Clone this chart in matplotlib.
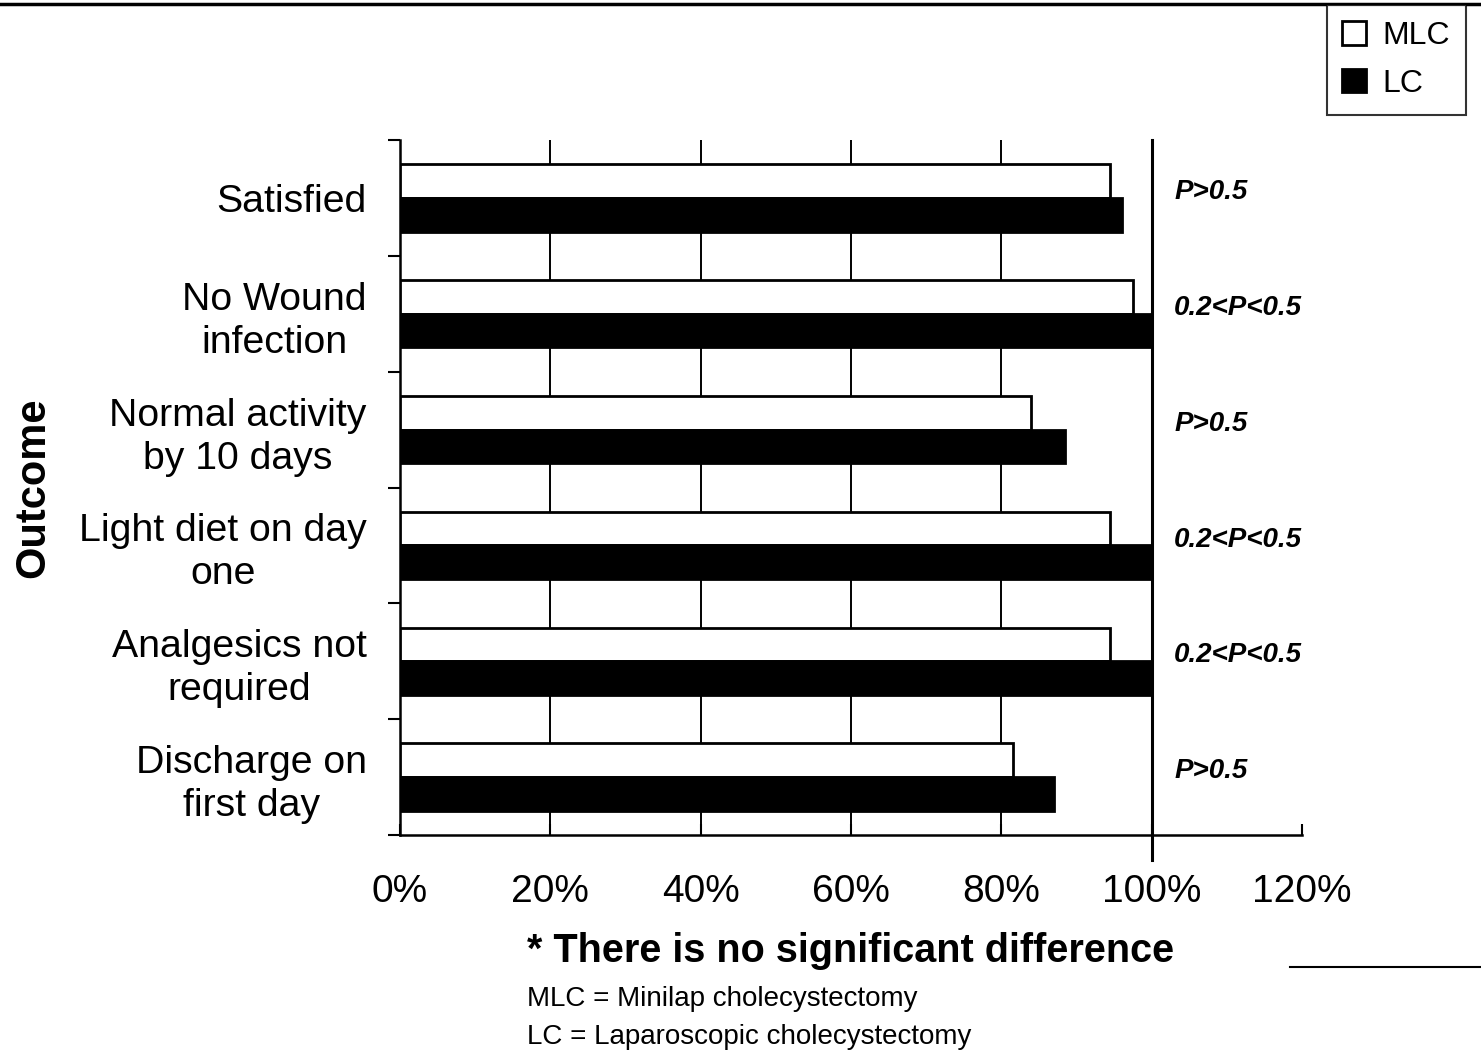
import matplotlib
matplotlib.use("Agg")
import matplotlib.pyplot as plt
from matplotlib.patches import Patch
from matplotlib.lines import Line2D
import numpy as np

plt.rcParams['font.family'] = ['Liberation Sans', 'DejaVu Sans']

categories = ["Satisfied", "No Wound\ninfection", "Normal activity\nby 10 days",
              "Light diet on day\none", "Analgesics not\nrequired", "Discharge on\nfirst day"]
mlc = [94.5, 97.5, 84, 94.5, 94.5, 81.5]
lc = [96, 100, 88.5, 100, 100, 87]
p_labels = ["P>0.5", "0.2<P<0.5", "P>0.5", "0.2<P<0.5", "0.2<P<0.5", "P>0.5"]
x_ticks = [0, 20, 40, 60, 80, 100, 120]
x_tick_labels = ["0%", "20%", "40%", "60%", "80%", "100%", "120%"]

fig = plt.figure(figsize=(14.81, 10.53), dpi=100)
ax = fig.add_axes([400/1481, 1-835/1053, 902/1481, 695/1053])

y = np.arange(len(categories))
h = 0.29
ax.barh(y - h/2, mlc, height=h, color='white', edgecolor='black', linewidth=2, zorder=3)
ax.barh(y + h/2, lc, height=h, color='black', edgecolor='black', linewidth=2, zorder=3)

ax.set_xlim(0, 120)
ax.set_ylim(len(categories) - 0.5, -0.5)
ax.set_xticks(x_ticks)
ax.set_xticklabels(x_tick_labels, fontsize=28)
ax.set_yticks(y)
ax.set_yticklabels(categories, fontsize=28.3, multialignment='center', linespacing=1.25)
ax.set_yticks(np.arange(-0.5, len(categories)), minor=True)
ax.tick_params(axis='y', which='major', length=0, pad=24)
ax.tick_params(axis='y', which='minor', length=9, width=1.5, direction='out')
ax.tick_params(axis='x', which='major', length=8, width=1.5, direction='in', pad=28)

for xv in x_ticks[1:-2]:
    ax.axvline(xv, color='black', linewidth=1.4, zorder=1)
ax.plot([100, 100], [-0.5, 5.72], color='black', linewidth=2.2, zorder=4, clip_on=False)

for s in ['top', 'right']:
    ax.spines[s].set_visible(False)
for s in ['left', 'bottom']:
    ax.spines[s].set_linewidth(1.8)

for yi, lab in zip(y, p_labels):
    ax.text(103, yi - 0.05, lab, fontsize=20, fontweight='bold', fontstyle='italic',
            ha='left', va='center')

fig.text(33/1481, 1-488/1053, "Outcome", rotation=90, fontsize=30, fontweight='bold',
         ha='center', va='center')
fig.text(527/1481, 1-951/1053, "* There is no significant difference", fontsize=28.5,
         fontweight='bold', ha='left', va='center')
fig.text(527/1481, 1-999/1053, "MLC = Minilap cholecystectomy", fontsize=20,
         ha='left', va='center')
fig.text(527/1481, 1-1037/1053, "LC = Laparoscopic cholecystectomy", fontsize=20,
         ha='left', va='center')

handles = [Patch(facecolor='white', edgecolor='black', linewidth=2, label='MLC'),
           Patch(facecolor='black', edgecolor='black', linewidth=2, label='LC')]
leg = fig.legend(handles=handles, loc='upper right', bbox_to_anchor=(1466/1481, 1-5/1053),
                 fontsize=23, frameon=True, fancybox=False, edgecolor='black',
                 handlelength=0.75, handleheight=0.75, handletextpad=0.5,
                 borderpad=0.5, labelspacing=0.55, borderaxespad=0)
leg.get_frame().set_linewidth(1.5)

fig.add_artist(Line2D([0, 1], [1-4/1053, 1-4/1053], color='black', linewidth=2.5,
                      transform=fig.transFigure))
fig.add_artist(Line2D([1290/1481, 1], [1-967/1053, 1-967/1053], color='black', linewidth=1.5,
                      transform=fig.transFigure))

fig.savefig("out.png", dpi=100)
